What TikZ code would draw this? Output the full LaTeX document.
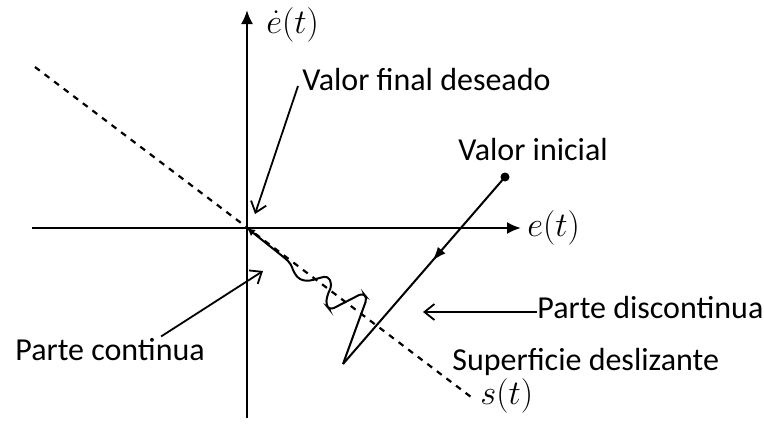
\documentclass[tikz,border=0pt]{standalone}
\usepackage{fontspec}
\setmainfont{Carlito}
\usetikzlibrary{arrows.meta, positioning, decorations.markings}
\tikzset{
  axisline/.style={line width=1.1pt, -{Latex[length=7pt,width=6pt]}},
  slideline/.style={line width=1.1pt, dash pattern=on 3pt off 3pt},
  trajline/.style={line width=1pt},
  lblarrow/.style={line width=0.9pt, -{Straight Barb[length=5pt,width=8pt]}},
  lbl/.style={font=\fontsize{16}{19}\selectfont, inner sep=0pt},
  statedot/.style={circle, fill=black, inner sep=0pt, minimum size=4.5pt},
}

\begin{document}
\begin{tikzpicture}[x=0.5pt, y=-0.5pt]
  \useasboundingbox[fill=white] (0,0) rectangle (764,423);
  % axes
  \coordinate (O) at (247,228);
  \coordinate (xl) at (32,228);
  \coordinate (xr) at (521,228);
  \coordinate (yb) at (247,418);
  \coordinate (yt) at (247,10);
  \draw[axisline] (xl) -- (xr);
  \draw[axisline] (yb) -- (yt);
  \node[lbl, anchor=west] (ex) at (527,228) {$e(t)$};
  \node[lbl, anchor=west] (edot) at (266,25) {$\dot{e}(t)$};

  % sliding surface
  \coordinate (sa) at (35,67);
  \coordinate (sb) at (475,400);
  \draw[slideline] (sa) -- (sb);
  \node[lbl, anchor=west] (st) at (480,396) {$s(t)$};

  % trajectory
  \node[statedot] (ini) at (505,177) {};
  \coordinate (bot) at (343,364);
  \draw[trajline, postaction={decorate},
        decoration={markings, mark=at position 0.45 with {\arrow{Latex[length=7pt,width=5pt]}}}]
    (ini.center) -- (bot);
  \draw[trajline, rounded corners=2pt, -{Latex[length=4pt,width=4pt]}]
    (bot) -- (367,298) -- (363,293) -- (330,310) -- (326,305) -- (327,296)
    -- (332,285) -- (328,276) -- (319,278) -- (310,281) -- (300,280)
    -- (294,273) -- (291,264) -- (286,259) -- (O);

  % labels
  \node[lbl, anchor=base west] (fin) at (302,90) {Valor final deseado};
  \coordinate (finTip) at (255,214);
  \draw[lblarrow] ([shift={(-4,-4)}]fin.base west) -- (finTip);

  \node[lbl, anchor=base west] (vini) at (458,160) {Valor inicial};

  \node[lbl, anchor=base west] (disc) at (537,318) {Parte discontinua};
  \coordinate (discTip) at (423,312);
  \draw[lblarrow] (discTip -| disc.west) -- (discTip);

  \node[lbl, anchor=base west] (cont) at (15,360) {Parte continua};
  \coordinate (contTip) at (263,271);
  \draw[lblarrow] ([shift={(-44,-1)}]cont.north east) -- (contTip);

  \node[lbl, anchor=base west] (sup) at (452,370) {Superficie deslizante};
\end{tikzpicture}
\end{document}
